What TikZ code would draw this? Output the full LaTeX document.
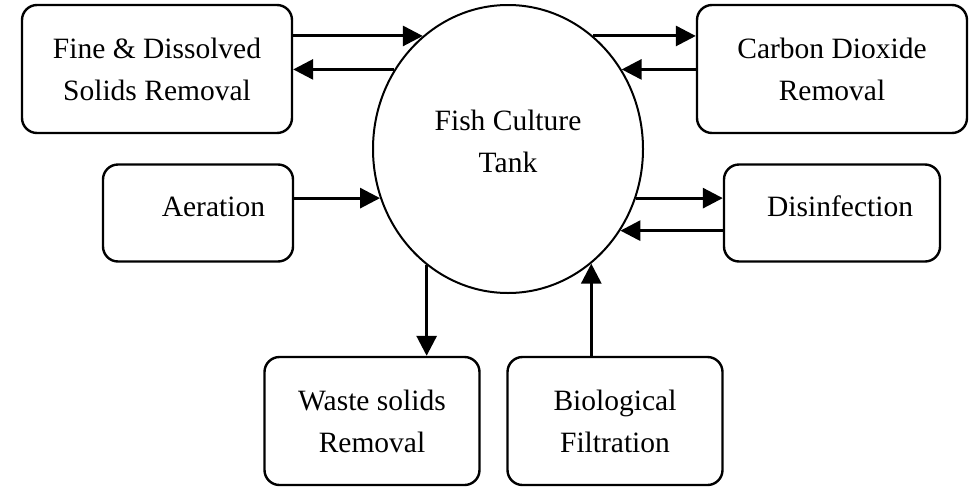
\documentclass[tikz,border=0pt]{standalone}
\usepackage{fontspec}
\setmainfont{Liberation Serif}
\usepackage{tikz}
\usetikzlibrary{positioning, arrows.meta, shapes.geometric}

\begin{document}
\begin{tikzpicture}[x=1pt, y=-1pt, >={Triangle[length=20pt, width=20pt]},
    every node/.style={font=\fontsize{29.5}{42}\selectfont},
    unit/.style={draw, rounded corners=15pt, line width=2.4pt,
                 align=center, inner sep=0pt},
    flow/.style={->, line width=3pt}]
    \useasboundingbox (0,0) rectangle (975,488);
    \node[draw, ellipse, line width=2pt, minimum width=270pt,
          minimum height=288pt, inner sep=0pt, align=center,
          text depth=16pt] (tank) at (508,149)
      {Fish Culture\\Tank};
    \node[unit, minimum width=270pt, minimum height=128pt] (fine) at (157,69)
      {Fine \& Dissolved\\Solids Removal};
    \node[unit, minimum width=270pt, minimum height=128pt] (co2) at (832,69)
      {Carbon Dioxide\\Removal};
    \node[unit, minimum width=190pt, minimum height=97pt, text width=134pt,
          align=right, text depth=13pt] (aer) at (198,213)
      {Aeration};
    \node[unit, minimum width=216pt, minimum height=97pt, text width=162pt,
          align=right, text depth=13pt] (dis) at (832,213)
      {Disinfection};
    \node[unit, minimum width=215pt, minimum height=128pt] (waste) at (372,421)
      {Waste solids\\Removal};
    \node[unit, minimum width=215pt, minimum height=128pt] (bio) at (615,421)
      {Biological\\Filtration};
    \draw[flow] (fine.east |- tank.127) -- (tank.127);
    \draw[flow] (tank.145) -- (fine.east |- tank.145);
    \draw[flow] (tank.53) -- (co2.west |- tank.53);
    \draw[flow] (co2.west |- tank.35) -- (tank.35);
    \draw[flow] (aer.east |- tank.201) -- (tank.201);
    \draw[flow] (tank.339) -- (dis.west |- tank.339);
    \draw[flow] (dis.west |- tank.324) -- (tank.324);
    \draw[flow] (tank.235) -- (tank.235 |- waste.north);
    \draw[flow] (bio.north -| tank.306) -- (tank.306);
\end{tikzpicture}
\end{document}
